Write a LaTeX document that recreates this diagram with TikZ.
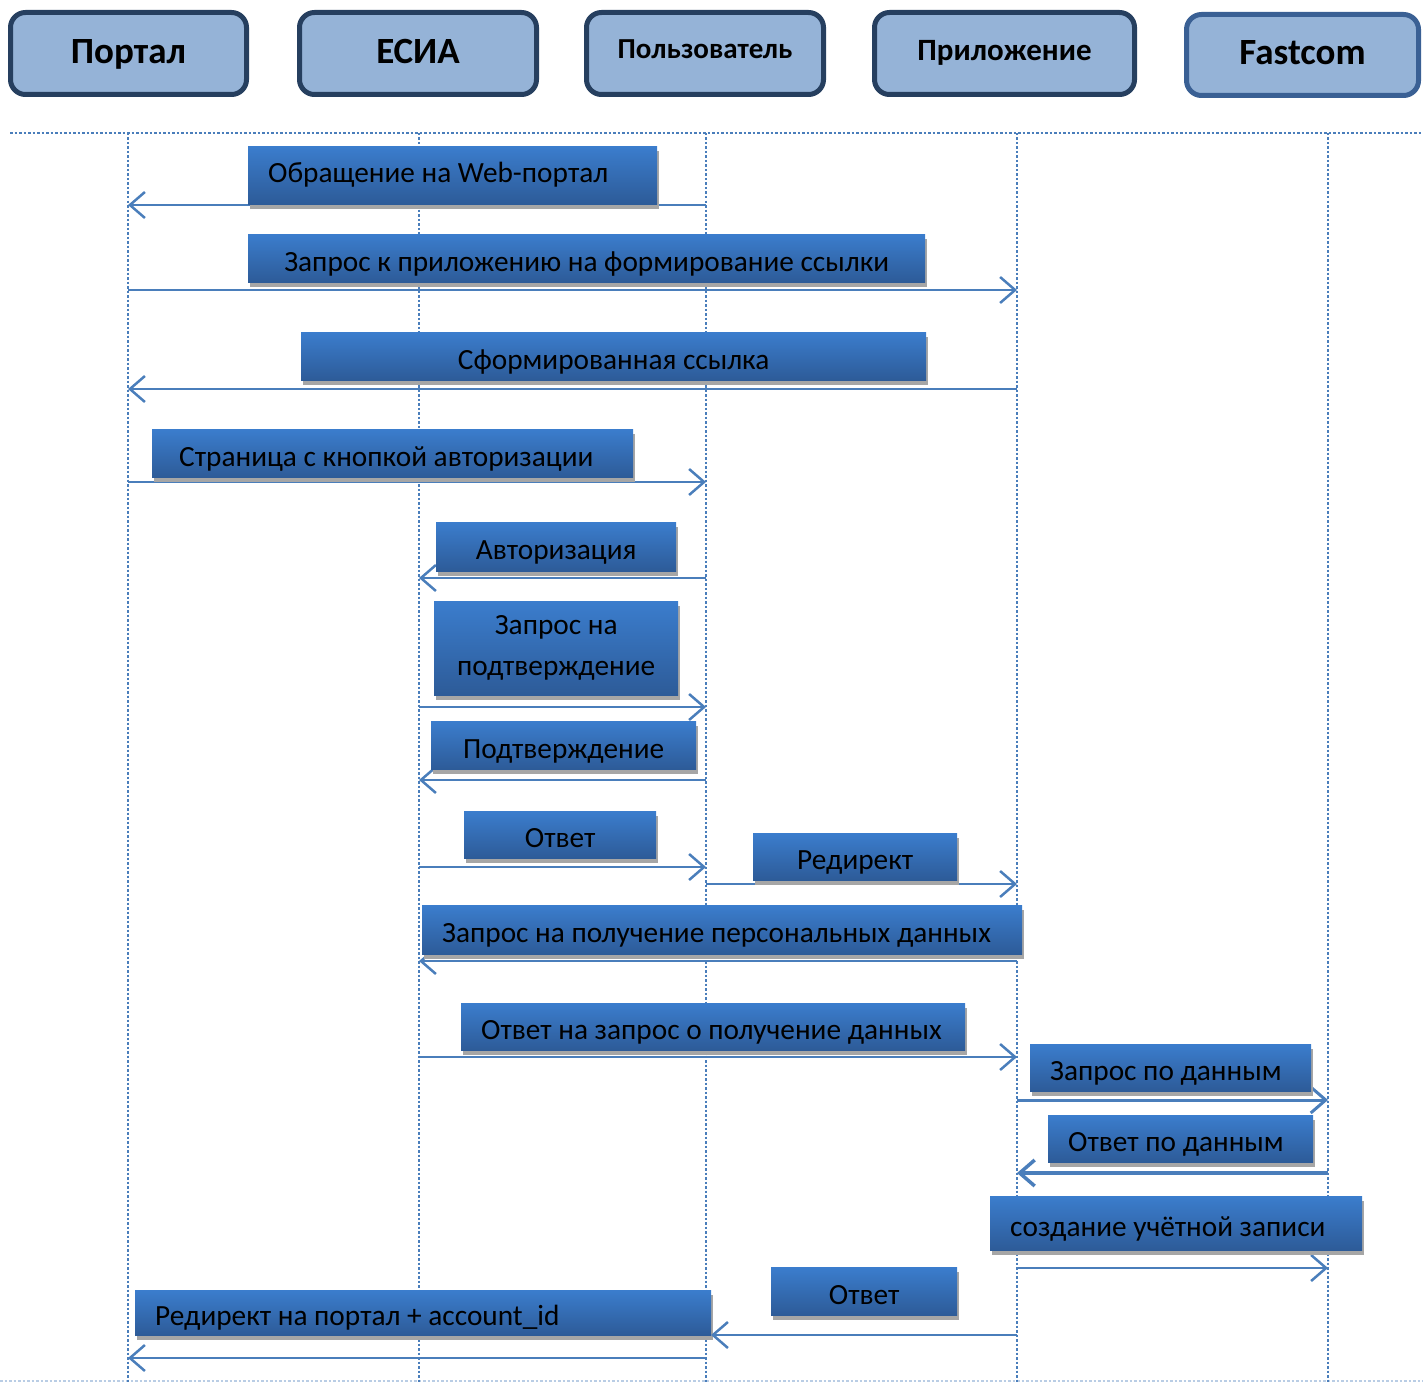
\documentclass[tikz,border=0pt]{standalone}
\usepackage{fontspec}
\setmainfont{Carlito}
\usetikzlibrary{arrows.meta,shadows,positioning,calc}
\definecolor{hdrfill}{HTML}{95B3D7}
\definecolor{hdrline}{HTML}{263F5F}
\definecolor{fastline}{HTML}{3A6094}
\definecolor{msgline}{HTML}{4A7EBB}
\definecolor{lightline}{HTML}{B9CDE5}
\definecolor{lbltop}{HTML}{3B7DCD}
\definecolor{lblbot}{HTML}{2D5B98}
\definecolor{shadowgray}{HTML}{A6A6A6}

\begin{document}
\begin{tikzpicture}
[x=1pt,y=-1pt,
hdr/.style={draw=hdrline,fill=hdrfill,line width=5pt,rounded corners=15pt,
  font=\fontsize{37}{40}\bfseries,text height=26pt,text depth=6pt,inner sep=0pt},
lbl/.style={top color=lbltop,bottom color=lblbot,inner sep=0pt,anchor=north west,
  font=\fontsize{29.3}{41}\selectfont,align=center,text height=27pt,text depth=1pt,
  drop shadow={shadow xshift=2pt,shadow yshift=-5pt,opacity=1,fill=shadowgray}},
lft/.style={align=flush left,text width=#1,inner xsep=20pt},
msg/.style={draw=msgline,line width=2.5pt,-{Straight Barb[length=15pt,width=26pt]}},
life/.style={draw=msgline,line width=2.5pt,dash pattern=on 2.5pt off 2pt}]
\useasboundingbox (0,0) rectangle (1423,1383);

% participants
\node[hdr,minimum width=236pt,minimum height=82pt] (portal) at (128.5,53.5) {Портал};
\node[hdr,minimum width=237pt,minimum height=82pt] (esia) at (418,53.5) {ЕСИА};
\node[hdr,minimum width=237pt,minimum height=82pt,font=\fontsize{29}{32}\bfseries,text depth=16pt] (user) at (705,53.5) {Пользователь};
\node[hdr,minimum width=260pt,minimum height=82pt,font=\fontsize{31}{34}\bfseries,text depth=12pt] (app) at (1004.5,53.5) {Приложение};
\node[hdr,draw=fastline,minimum width=232pt,minimum height=81pt] (fast) at (1302.5,55) {Fastcom};

% lifelines
\coordinate (lPortal) at (128,133);
\coordinate (lEsia) at (419,133);
\coordinate (lUser) at (706,133);
\coordinate (lApp) at (1017,133);
\coordinate (lFast) at (1328,133);
\draw[life] (10,133) -- (1423,133);
\draw[life,draw=lightline] (0,1381) -- (1423,1381);
\foreach \l in {lPortal,lEsia,lUser,lApp,lFast}
  \draw[life] (\l) -- (\l |- 0,1383);

% messages
\draw[msg] (lUser |- 0,205) -- (lPortal |- 0,205);
\draw[msg] (lPortal |- 0,290) -- (lApp |- 0,290);
\draw[msg] (lApp |- 0,389) -- (lPortal |- 0,389);
\draw[msg] (lPortal |- 0,482) -- (lUser |- 0,482);
\draw[msg] (lUser |- 0,578) -- (lEsia |- 0,578);
\draw[msg] (lEsia |- 0,707) -- (lUser |- 0,707);
\draw[msg] (lUser |- 0,780) -- (lEsia |- 0,780);
\draw[msg] (lEsia |- 0,867) -- (lUser |- 0,867);
\draw[msg] (lUser |- 0,884) -- (lApp |- 0,884);
\draw[msg] (lApp |- 0,961) -- (lEsia |- 0,961);
\draw[msg] (lEsia |- 0,1057) -- (lApp |- 0,1057);
\draw[msg,line width=3pt] (lApp |- 0,1100) -- (lFast |- 0,1100);
\draw[msg,line width=3.5pt] (lFast |- 0,1173) -- (lApp |- 0,1173);
\draw[msg] (lApp |- 0,1268) -- (lFast |- 0,1268);
\draw[msg] (lUser |- 0,1358) -- (lPortal |- 0,1358);

% labels
\node[lbl,lft=369pt,minimum width=409pt,minimum height=58pt,text depth=13pt] (mWeb) at (248,146) {Обращение на Web-портал};
\node[lbl,minimum width=677pt,minimum height=48pt] (mLink) at (248,234) {Запрос к приложению на формирование ссылки};
\node[lbl,minimum width=625pt,minimum height=48pt] (mReady) at (301,332) {Сформированная ссылка};
\node[lbl,lft=427pt,inner xsep=27pt,minimum width=481pt,minimum height=48pt] (mPage) at (152,429) {Страница с кнопкой авторизации};
\node[lbl,minimum width=240pt,minimum height=49pt] (mAuth) at (436,522) {Авторизация};
\node[lbl,minimum width=244pt,minimum height=94pt,text height={},text depth={}] (mConfReq) at (434,601) {Запрос на\\подтверждение};
\node[lbl,minimum width=265pt,minimum height=48pt] (mConf) at (431,721) {Подтверждение};
\node[lbl,minimum width=192pt,minimum height=47pt] (mAns) at (464,811) {Ответ};
\node[lbl,minimum width=204pt,minimum height=47pt] (mRedir) at (753,833) {Редирект};
\node[lbl,lft=560pt,minimum width=600pt,minimum height=49pt] (mPers) at (422,905) {Запрос на получение персональных данных};
\node[lbl,lft=464pt,minimum width=504pt,minimum height=47pt] (mPersAns) at (461,1003) {Ответ на запрос о получение данных};
\node[lbl,lft=241pt,minimum width=281pt,minimum height=47pt] (mData) at (1030,1044) {Запрос по данным};
\node[lbl,lft=225pt,minimum width=265pt,minimum height=47pt] (mDataAns) at (1048,1115) {Ответ по данным};
\node[lbl,lft=332pt,minimum width=372pt,minimum height=54pt] (mAcc) at (990,1196) {создание учётной записи};
\node[lbl,minimum width=186pt,minimum height=48pt] (mAns2) at (771,1267) {Ответ};
\node[lbl,lft=536pt,minimum width=576pt,minimum height=45pt] (mBack) at (135,1290) {Редирект на портал + account\_id};

\draw[msg] (lApp |- 0,1335) -- ($(lUser |- 0,1335)+(5,0)$);
\end{tikzpicture}
\end{document}
